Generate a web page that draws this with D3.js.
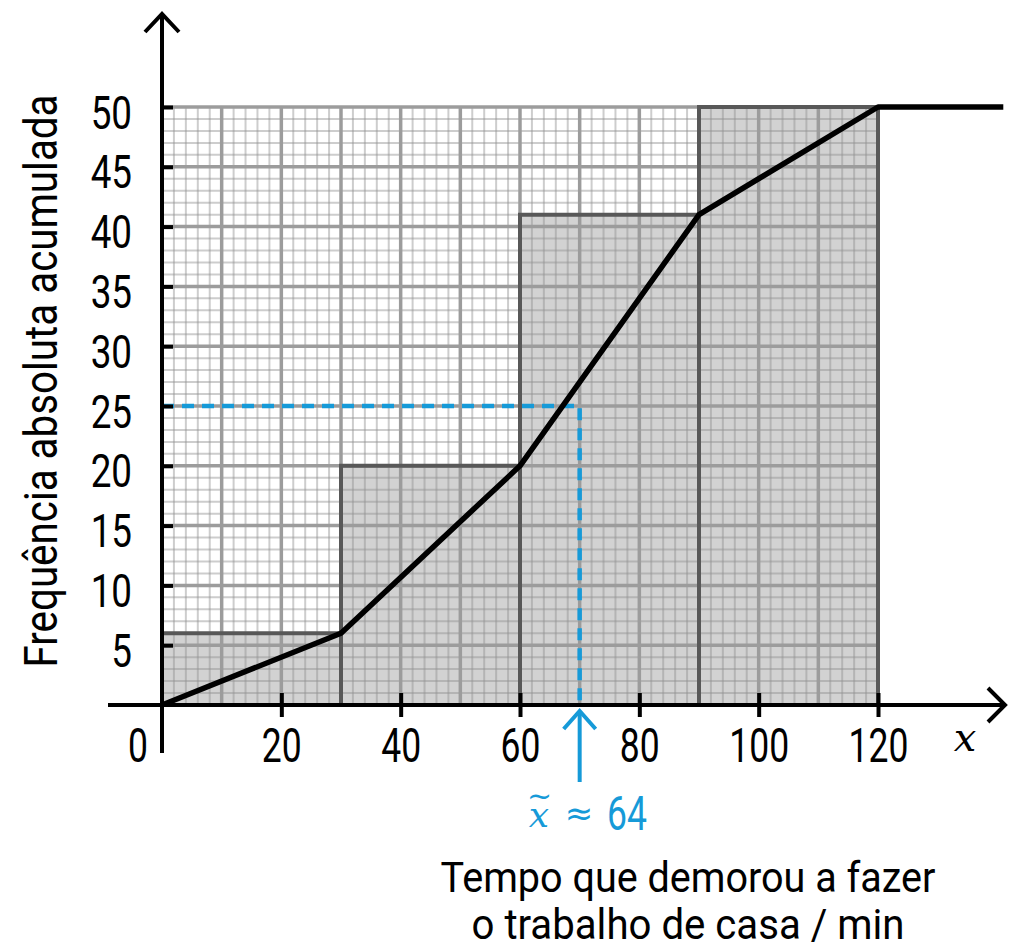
<!DOCTYPE html>
<html lang="pt">
<head>
<meta charset="utf-8">
<script src="https://cdn.jsdelivr.net/npm/d3@7"></script>
<style>
  body { margin: 0; background: #fff; }
  svg { display: block; }
</style>
</head>
<body>
<svg id="chart"></svg>
<script>
// data
var classEdges = [0, 30, 60, 90, 120];
var cumFreq = [6, 20, 41, 50];
var ogiveX = [0, 30, 60, 90, 120, 141];
var ogiveY = [0, 6, 20, 41, 50, 50];
var xTicks = [20, 40, 60, 80, 100, 120];
var yTicks = [5, 10, 15, 20, 25, 30, 35, 40, 45, 50];
var medianFreq = 25;
var medianMark = 70;
var medianText = "64";
var yTitle = "Frequência absoluta acumulada";
var xTitle = ["Tempo que demorou a fazer", "o trabalho de casa / min"];

var width = 1033, height = 950;
var blue = "#169ad8";
var font = "Roboto, 'Noto Sans', sans-serif";

var svg = d3.select("#chart").attr("width", width).attr("height", height);

var x = d3.scaleLinear().domain([0, 120]).range([162, 878]);
var y = d3.scaleLinear().domain([0, 50]).range([705, 107]);

// bar fills
var bars = d3.range(cumFreq.length).map(function(i) {
  return {x0: classEdges[i], x1: classEdges[i + 1], v: cumFreq[i]};
});
svg.append("g").selectAll("rect").data(bars).enter().append("rect")
  .attr("x", function(d) { return x(d.x0); })
  .attr("y", function(d) { return y(d.v); })
  .attr("width", function(d) { return x(d.x1) - x(d.x0); })
  .attr("height", function(d) { return y(0) - y(d.v); })
  .attr("fill", "#d2d2d2");

// graph paper
var grid = svg.append("g");
grid.selectAll("line.vmin").data(d3.range(0, 121, 2).filter(function(v) { return v % 10; }))
  .enter().append("line")
  .attr("x1", x).attr("x2", x).attr("y1", y(0)).attr("y2", y(50))
  .attr("stroke", "#909090").attr("stroke-opacity", 0.45).attr("stroke-width", 2);
grid.selectAll("line.hmin").data(d3.range(1, 50).filter(function(v) { return v % 5; }))
  .enter().append("line")
  .attr("x1", x(0)).attr("x2", x(120)).attr("y1", y).attr("y2", y)
  .attr("stroke", "#909090").attr("stroke-opacity", 0.45).attr("stroke-width", 2);
grid.selectAll("line.vmaj").data(d3.range(10, 121, 10))
  .enter().append("line")
  .attr("x1", x).attr("x2", x).attr("y1", y(0)).attr("y2", y(50))
  .attr("stroke", "#9c9c9c").attr("stroke-width", 3.5);
grid.selectAll("line.hmaj").data(d3.range(5, 51, 5))
  .enter().append("line")
  .attr("x1", x(0)).attr("x2", x(120)).attr("y1", y).attr("y2", y)
  .attr("stroke", "#9c9c9c").attr("stroke-width", 3.5);

// bar outlines
svg.append("g").selectAll("path").data(bars).enter().append("path")
  .attr("d", function(d) {
    return "M" + x(d.x0) + "," + y(0) + "V" + y(d.v) + "H" + x(d.x1) + "V" + y(0);
  })
  .attr("fill", "none").attr("stroke", "#585858").attr("stroke-width", 4);

// median guide
var xm = x(medianMark), ym = y(medianFreq);
svg.append("path")
  .attr("d", "M" + x(0) + "," + ym + "H" + xm + "V" + y(0))
  .attr("fill", "none").attr("stroke", blue).attr("stroke-width", 4.5)
  .attr("stroke-dasharray", "12,8");

// ogive
svg.append("path")
  .datum(d3.zip(ogiveX, ogiveY))
  .attr("d", d3.line().x(function(d) { return x(d[0]); }).y(function(d) { return y(d[1]); }))
  .attr("fill", "none").attr("stroke", "#000").attr("stroke-width", 5.5)
  .attr("stroke-linejoin", "round");

// axes lines + arrows
var axes = svg.append("g").attr("stroke", "#000").attr("fill", "none").attr("stroke-width", 4);
axes.append("line").attr("x1", 108).attr("x2", 1004).attr("y1", y(0)).attr("y2", y(0));
axes.append("line").attr("x1", x(0)).attr("x2", x(0)).attr("y1", 753).attr("y2", 15);
axes.append("path").attr("d", "M988,688L1005," + y(0) + "L988,722");
axes.append("path").attr("d", "M145,32L" + x(0) + ",14L179,32");

// x ticks
var sqX = 0.74;
var xAxis = svg.append("g").attr("transform", "translate(0," + y(0) + ")")
  .call(d3.axisBottom(x).tickValues(xTicks).tickSize(12).tickPadding(10));
xAxis.select(".domain").remove();
xAxis.selectAll(".tick line").attr("y1", -12).attr("stroke-width", 4);
xAxis.selectAll(".tick text")
  .attr("y", 57).attr("dy", 0)
  .attr("transform", "scale(" + sqX + ",1)")
  .style("font-family", font).style("font-size", "48px")
  .attr("fill", "#000");

// y ticks
var sqY = 0.8;
var yAxis = svg.append("g").attr("transform", "translate(" + x(0) + ",0)")
  .call(d3.axisLeft(y).tickValues(yTicks).tickSize(13));
yAxis.select(".domain").remove();
yAxis.selectAll(".tick line").attr("x2", 11).attr("stroke-width", 4);
yAxis.selectAll(".tick text")
  .attr("x", -30 / sqY).attr("dy", "0.46em")
  .attr("transform", "scale(" + sqY + ",1)")
  .style("font-family", font).style("font-size", "46px")
  .attr("fill", "#000");

// origin label
svg.append("text").text("0")
  .attr("transform", "translate(138,762) scale(" + sqX + ",1)")
  .attr("text-anchor", "middle")
  .style("font-family", font).style("font-size", "48px");

// x variable
svg.append("text").text("x")
  .attr("x", 965).attr("y", 751).attr("text-anchor", "middle")
  .style("font-family", "'DejaVu Serif', 'Liberation Serif', serif")
  .style("font-style", "italic").style("font-size", "40px");

// median arrow + label
var marrow = svg.append("g").attr("stroke", blue).attr("fill", "none").attr("stroke-width", 4);
marrow.append("line").attr("x1", xm).attr("x2", xm).attr("y1", 713).attr("y2", 782);
marrow.append("path").attr("d", "M" + (xm - 16) + ",729L" + xm + ",711L" + (xm + 16) + ",729");

var mlab = svg.append("g").attr("fill", blue);
var xt = mlab.append("text")
  .attr("x", 527).attr("y", 827)
  .style("font-family", "'DejaVu Serif', 'Liberation Serif', serif");
xt.append("tspan").text("x").style("font-style", "italic").style("font-size", "36px");
xt.append("tspan").text("~").attr("dx", -22).attr("dy", -21).style("font-size", "30px");
mlab.append("text").text("≈")
  .attr("x", 579).attr("y", 825).attr("text-anchor", "middle")
  .style("font-family", "'DejaVu Sans', sans-serif").style("font-size", "34px");
mlab.append("text").text(medianText)
  .attr("transform", "translate(627,830) scale(" + sqX + ",1)")
  .attr("text-anchor", "middle")
  .style("font-family", font).style("font-size", "48px");

// titles
svg.append("text").text(yTitle)
  .attr("transform", "translate(57,381) rotate(-90)")
  .attr("text-anchor", "middle")
  .attr("textLength", 573).attr("lengthAdjust", "spacingAndGlyphs")
  .style("font-family", font).style("font-size", "47px");

svg.selectAll("text.xtitle").data(xTitle).enter().append("text")
  .attr("class", "xtitle")
  .text(function(d) { return d; })
  .attr("x", 688)
  .attr("y", function(d, i) { return 892 + i * 47; })
  .attr("text-anchor", "middle")
  .attr("textLength", function(d, i) { return i ? 433 : 495; })
  .attr("lengthAdjust", "spacingAndGlyphs")
  .style("font-family", font).style("font-size", "43px");
</script>
</body>
</html>
